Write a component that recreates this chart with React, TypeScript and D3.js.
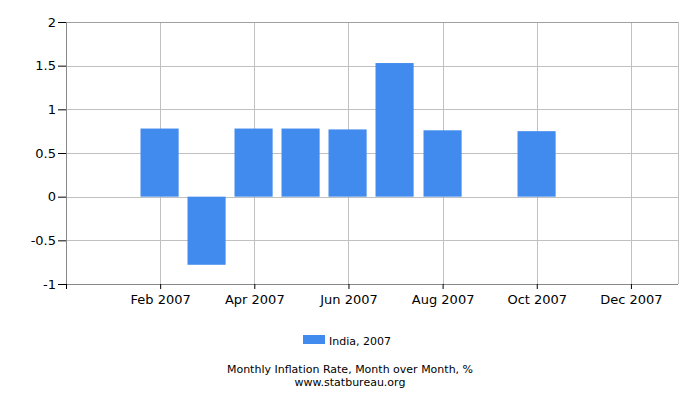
import React, { useEffect, useRef } from 'react';
import * as d3 from 'd3';

const months = ['Jan', 'Feb', 'Mar', 'Apr', 'May', 'Jun', 'Jul', 'Aug', 'Sep', 'Oct', 'Nov', 'Dec'];
const values: (number | null)[] = [null, 0.78, -0.78, 0.78, 0.78, 0.77, 1.53, 0.76, null, 0.75, null, null];
const yTicks = [-1, -0.5, 0, 0.5, 1, 1.5, 2];
const xTickMonths = [1, 3, 5, 7, 9, 11];
const seriesName = 'India, 2007';
const title = 'Monthly Inflation Rate, Month over Month, %';
const source = 'www.statbureau.org';

export default function App() {
    const svgRef = useRef<SVGSVGElement | null>(null);

    useEffect(() => {
        if (!svgRef.current) return;
        const svg = d3.select(svgRef.current);
        svg.selectAll('*').remove();

        const width = 700;
        const height = 400;
        const margin = { top: 22, right: 22, bottom: 116, left: 66 };
        const innerWidth = width - margin.left - margin.right;
        const innerHeight = height - margin.top - margin.bottom;
        const font = 'DejaVu Sans, sans-serif';

        svg.attr('width', width).attr('height', height).style('font-family', font);

        const g = svg.append('g').attr('transform', `translate(${margin.left},${margin.top})`);

        // month index -1 (Dec 2006) .. 12 (Jan 2008)
        const x = d3.scaleLinear().domain([-1, 12]).range([0, innerWidth]);
        const y = d3.scaleLinear().domain([-1, 2]).range([innerHeight, 0]);
        const step = x(1) - x(0);
        const barW = step * 0.81;

        // grid
        g.selectAll('.hgrid')
            .data(yTicks)
            .enter().append('line')
            .attr('x1', 0).attr('x2', innerWidth)
            .attr('y1', d => Math.round(y(d)) + 0.5).attr('y2', d => Math.round(y(d)) + 0.5)
            .attr('stroke', '#c0c0c0').attr('stroke-width', 1);

        g.selectAll('.vgrid')
            .data(xTickMonths)
            .enter().append('line')
            .attr('x1', d => Math.round(x(d)) + 0.5).attr('x2', d => Math.round(x(d)) + 0.5)
            .attr('y1', 0).attr('y2', innerHeight)
            .attr('stroke', '#c0c0c0').attr('stroke-width', 1);

        g.append('line')
            .attr('x1', innerWidth + 0.5).attr('x2', innerWidth + 0.5)
            .attr('y1', 0).attr('y2', innerHeight)
            .attr('stroke', '#c0c0c0');
        g.append('line')
            .attr('x1', 0).attr('x2', innerWidth)
            .attr('y1', 0.5).attr('y2', 0.5)
            .attr('stroke', '#a0a0a0');

        // bars
        const barData = values.map((v, i) => ({ i, v })).filter(d => d.v !== null) as { i: number; v: number }[];
        g.selectAll('.bar')
            .data(barData)
            .enter().append('rect')
            .attr('x', d => Math.round(x(d.i) - barW / 2) - 0.5)
            .attr('width', barW)
            .attr('y', d => y(Math.max(0, d.v)))
            .attr('height', d => Math.abs(y(d.v) - y(0)))
            .attr('fill', '#428bee');

        // y axis
        const yAxis = g.append('g')
            .call(d3.axisLeft(y).tickValues(yTicks).tickSize(8).tickPadding(2)
                .tickFormat(d => String(d)));
        yAxis.select('.domain').attr('stroke', '#888').attr('d', `M0.5,0V${innerHeight}`);
        yAxis.selectAll('.tick line').attr('stroke', '#000');
        yAxis.selectAll('text').attr('font-size', 13).attr('font-family', font).attr('fill', '#000');

        // x axis
        const xAxis = g.append('g')
            .attr('transform', `translate(0,${innerHeight})`)
            .call(d3.axisBottom(x).tickValues([-1, ...xTickMonths]).tickSize(5).tickPadding(6)
                .tickFormat(d => (d as number) < 0 ? '' : `${months[d as number]} 2007`));
        xAxis.select('.domain').attr('stroke', '#888').attr('d', `M0,0.5H${innerWidth}`);
        xAxis.selectAll('.tick line').attr('stroke', '#000');
        xAxis.selectAll('text').attr('font-size', 13).attr('font-family', font).attr('fill', '#000');

        // legend
        const legend = svg.append('g').attr('transform', 'translate(303,335)');
        legend.append('rect').attr('width', 22).attr('height', 9).attr('fill', '#428bee');
        legend.append('text').attr('x', 26).attr('y', 9.5)
            .attr('font-size', 11).attr('fill', '#000').text(seriesName);

        svg.append('text').attr('x', 350).attr('y', 373)
            .attr('text-anchor', 'middle').attr('font-size', 11).attr('fill', '#000').text(title);
        svg.append('text').attr('x', 350).attr('y', 386)
            .attr('text-anchor', 'middle').attr('font-size', 11).attr('fill', '#000').text(source);
    }, []);

    return <svg ref={svgRef} style={{ display: 'block', position: 'absolute', left: 0, top: 0 }}></svg>;
}
